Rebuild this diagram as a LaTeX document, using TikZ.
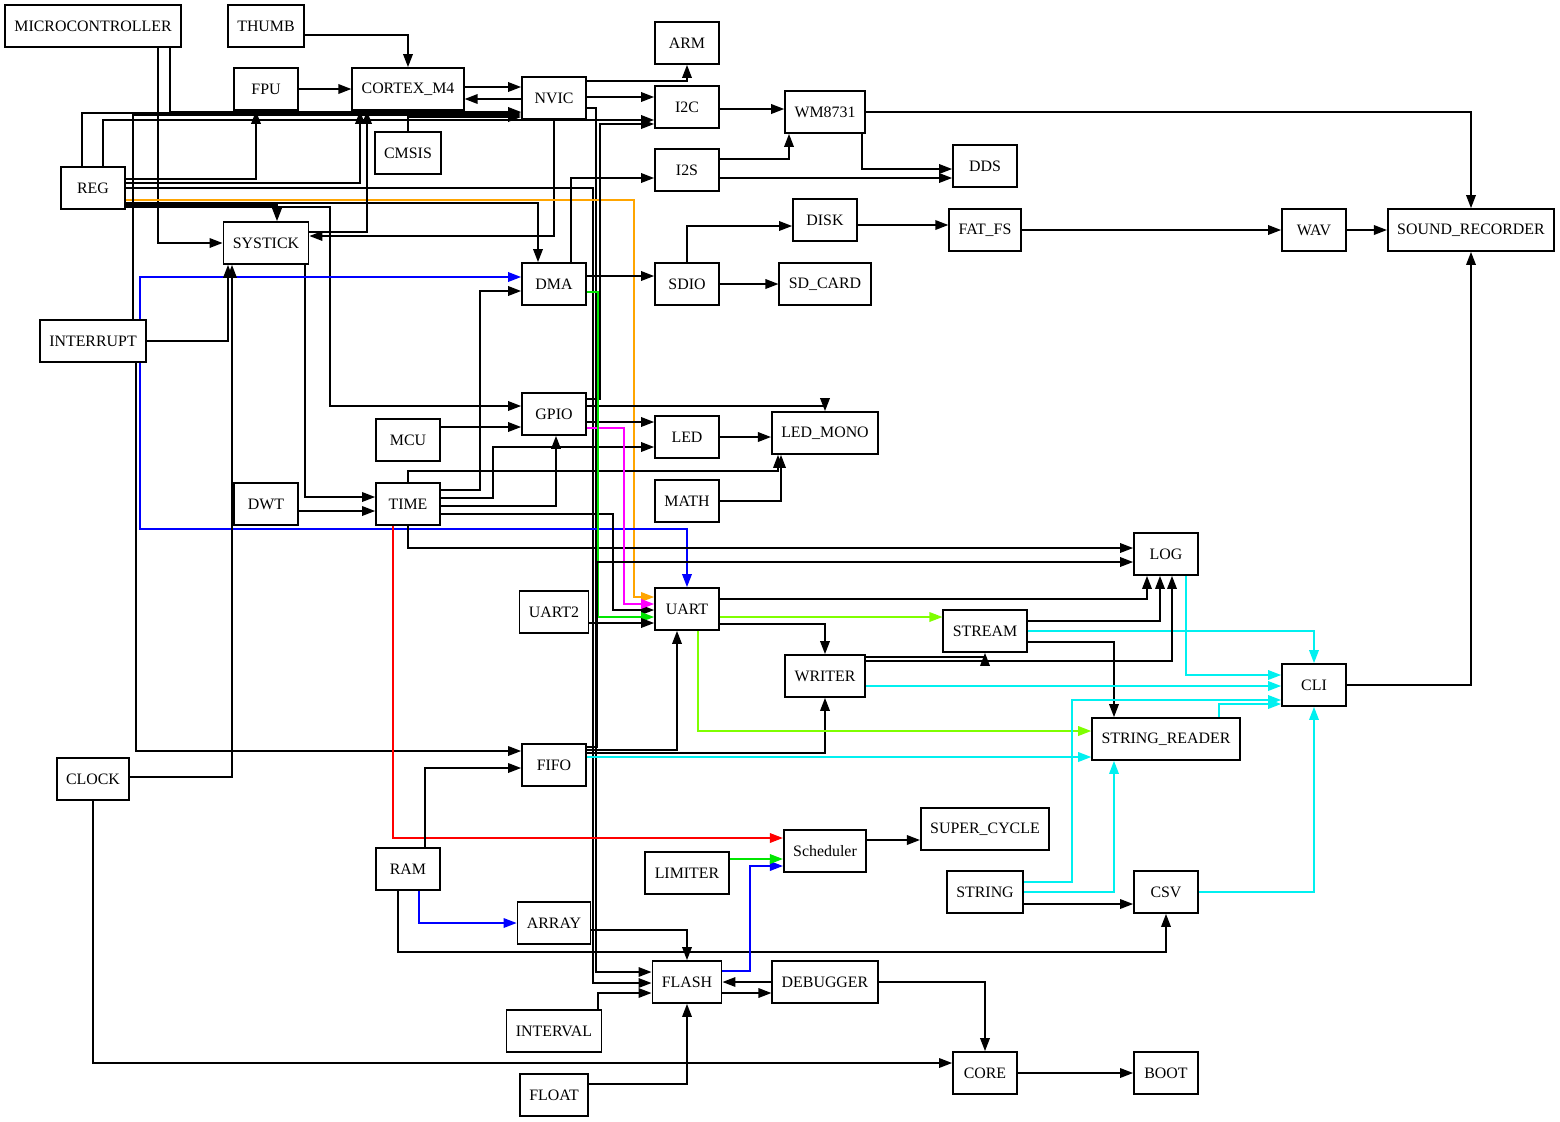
\documentclass[tikz,border=0pt]{standalone}
\usepackage{fontspec}
\setmainfont{Liberation Serif}
\usetikzlibrary{arrows.meta}
\definecolor{gvorange}{RGB}{255,165,0}
\definecolor{gvgreen}{RGB}{0,230,0}
\definecolor{gvlime}{RGB}{127,255,0}
\definecolor{gvcyan}{RGB}{0,240,240}
\definecolor{gvblue}{RGB}{0,0,255}
\definecolor{gvred}{RGB}{255,0,0}
\definecolor{gvmagenta}{RGB}{255,0,255}
\tikzset{
  box/.style={draw, line width=0.9pt, minimum width=32pt, minimum height=21pt, inner xsep=4.7pt, font=\fontsize{7.95}{9}\selectfont},
  link/.style={->, line width=0.75pt}
}
\begin{document}
\begin{tikzpicture}[>={Triangle[length=6.5pt, width=4.8pt]}, x=0.5pt, y=-0.5pt]
\useasboundingbox (0,0) rectangle (1560,1121);

\node[box] (micro) at (93,26) {MICROCONTROLLER};
\node[box] (thumb) at (266,26) {THUMB};
\node[box] (arm) at (687,43) {ARM};
\node[box] (fpu) at (266,89) {FPU};
\node[box] (cortex) at (408,89) {CORTEX\_M4};
\node[box] (nvic) at (554,98) {NVIC};
\node[box] (i2c) at (687,107) {I2C};
\node[box] (wm) at (825,112) {WM8731};
\node[box] (cmsis) at (408,153) {CMSIS};
\node[box] (reg) at (93,188) {REG};
\node[box] (i2s) at (687,170) {I2S};
\node[box] (dds) at (985,166) {DDS};
\node[box] (disk) at (825,220) {DISK};
\node[box] (fatfs) at (985,230) {FAT\_FS};
\node[box] (wav) at (1314,230) {WAV};
\node[box] (sndrec) at (1471,230) {SOUND\_RECORDER};
\node[box] (systick) at (266,243) {SYSTICK};
\node[box] (dma) at (554,284) {DMA};
\node[box] (sdio) at (687,284) {SDIO};
\node[box] (sdcard) at (825,284) {SD\_CARD};
\node[box] (interrupt) at (93,341) {INTERRUPT};
\node[box] (gpio) at (554,414) {GPIO};
\node[box] (mcu) at (408,440) {MCU};
\node[box] (led) at (687,437) {LED};
\node[box] (ledmono) at (825,433) {LED\_MONO};
\node[box] (math) at (687,501) {MATH};
\node[box] (dwt) at (266,504) {DWT};
\node[box] (time) at (408,504) {TIME};
\node[box] (log) at (1166,554) {LOG};
\node[box] (uarttwo) at (554,612) {UART2};
\node[box] (uart) at (687,609) {UART};
\node[box] (stream) at (985,631) {STREAM};
\node[box] (writer) at (825,676) {WRITER};
\node[box] (cli) at (1314,685) {CLI};
\node[box] (strreader) at (1166,739) {STRING\_READER};
\node[box] (fifo) at (554,765) {FIFO};
\node[box] (clock) at (93,779) {CLOCK};
\node[box] (supercycle) at (985,829) {SUPER\_CYCLE};
\node[box] (scheduler) at (825,851) {Scheduler};
\node[box] (ram) at (408,869) {RAM};
\node[box] (limiter) at (687,873) {LIMITER};
\node[box] (string) at (985,892) {STRING};
\node[box] (csv) at (1166,892) {CSV};
\node[box] (array) at (554,923) {ARRAY};
\node[box] (flash) at (687,982) {FLASH};
\node[box] (debugger) at (825,982) {DEBUGGER};
\node[box] (interval) at (554,1031) {INTERVAL};
\node[box] (core) at (985,1073) {CORE};
\node[box] (boot) at (1166,1073) {BOOT};
\node[box] (float) at (554,1095) {FLOAT};

\draw[link] (thumb.east |- 0,35) -| (cortex.north);
\draw[link] (fpu) -- (cortex);
\draw[link] (cortex.east |- 0,87) -- (nvic.west |- 0,87);
\draw[link] (nvic.west |- 0,99) -- (cortex.east |- 0,99);
\draw[link] (nvic.east |- 0,81) -| (arm.south);
\draw[link] (nvic.east |- 0,97) -- (i2c.west |- 0,97);
\draw[link] (nvic.east |- 0,108) -- (596,108) |- (flash.west |- 0,972);
\draw[link] (nvic.south) |- (systick.east |- 0,236);
\draw[link] (micro.south -| 170,0) |- (nvic.west |- 0,112);
\draw[link] (micro.south -| 158,0) |- (systick.west);

\draw[link] (reg.north -| 82,0) |- (nvic.west |- 0,113);
\draw[link] (reg.north -| 103,0) |- (i2c.west |- 0,120);
\draw[link] (reg.east |- 0,179) -| (256,0 |- fpu.south);
\draw[link] (reg.east |- 0,183) -| (360,0 |- cortex.south);
\draw[link] (reg.east |- 0,188) -- (593,188) |- (flash.west |- 0,983);
\draw[link, gvorange] (reg.east |- 0,200) -- (634,200) |- (uart.west |- 0,597);
\draw[link] (reg.east |- 0,203) -| (538,0 |- dma.north);
\draw[link] (reg.east |- 0,205) -| (277,0 |- systick.north);
\draw[link] (reg.east |- 0,207) -- (330,207) |- (gpio.west |- 0,406);
\draw[link] (cmsis.north) |- (nvic.west |- 0,117);

\draw[link] (systick.east |- 0,232) -| (367,0 |- cortex.south);
\draw[link] (systick.south -| 305,0) |- (time.west |- 0,497);
\draw[link] (interrupt.north -| 133,0) |- (nvic.west |- 0,115);
\draw[link, gvblue] (interrupt.north -| 140,0) |- (dma.west |- 0,277);
\draw[link, gvblue] (interrupt.south -| 140,0) |- (uart.north |- 0,529) -- (uart.north);
\draw[link] (interrupt.east) -| (228,0 |- systick.south);
\draw[link] (interrupt.south -| 136,0) |- (fifo.west |- 0,751);
\draw[link] (clock.east |- 0,777) -| (232,0 |- systick.south);
\draw[link] (clock.south) |- (core.west |- 0,1063);
\draw[link] (dwt.east |- 0,511) -- (time.west |- 0,511);

\draw[link] (time.north) |- (778,471) -- (778,0 |- ledmono.south);
\draw[link] (time.east |- 0,490) -| (480,291) -- (dma.west |- 0,291);
\draw[link] (time.east |- 0,498) -| (493,447) -- (led.west |- 0,447);
\draw[link] (time.east |- 0,506) -| (556,0 |- gpio.south);
\draw[link] (time.east |- 0,514) -| (613,610) -- (uart.west |- 0,610);
\draw[link] (time.south) |- (log.west |- 0,548);
\draw[link, gvred] (time.south -| 393,0) |- (scheduler.west |- 0,838);
\draw[link] (mcu.east |- 0,427) -- (gpio.west |- 0,427);

\draw[link] (gpio.east |- 0,399) -| (600,124) -- (i2c.west |- 0,124);
\draw[link] (gpio.east |- 0,406) -| (ledmono.north);
\draw[link] (gpio.east |- 0,422) -- (led.west |- 0,422);
\draw[link, gvmagenta] (gpio.east |- 0,428) -| (624,604) -- (uart.west |- 0,604);
\draw[link] (led.east) -- (ledmono.west |- led.east);
\draw[link] (math.east) -| (781,0 |- ledmono.south);

\draw[link, gvgreen] (dma.east |- 0,292) -| (598,617) -- (uart.west |- 0,617);
\draw[link] (dma.north -| 571,0) |- (i2s.west |- 0,178);
\draw[link] (dma.east |- 0,276) -- (sdio.west |- 0,276);
\draw[link] (sdio.north) |- (disk.west |- 0,226);
\draw[link] (sdio) -- (sdcard);
\draw[link] (disk.east |- 0,225) -- (fatfs.west |- 0,225);
\draw[link] (fatfs) -- (wav);
\draw[link] (wav) -- (sndrec);
\draw[link] (i2c.east |- 0,109) -- (wm.west |- 0,109);
\draw[link] (i2s.east |- 0,159) -| (789,0 |- wm.south);
\draw[link] (i2s.east |- 0,178) -- (dds.west |- 0,178);
\draw[link] (wm.south -| 862,0) |- (dds.west |- 0,169);
\draw[link] (wm.east) -| (sndrec.north);

\draw[link] (uarttwo.east |- 0,623) -- (uart.west |- 0,623);
\draw[link] (fifo.east |- 0,747) -- (597,747) |- (log.west |- 0,562);
\draw[link] (fifo.east |- 0,750) -| (677,0 |- uart.south);
\draw[link] (fifo.east |- 0,753) -| (writer.south);
\draw[link, gvcyan] (fifo.east |- 0,757) -- (strreader.west |- 0,757);
\draw[link] (uart.east |- 0,599) -| (1147,0 |- log.south);
\draw[link, gvlime] (uart.east |- 0,617) -- (stream.west |- 0,617);
\draw[link] (uart.east |- 0,624) -| (writer.north);
\draw[link, gvlime] (uart.south -| 698,0) |- (strreader.west |- 0,731);

\draw[link] (stream.east |- 0,621) -| (1160,0 |- log.south);
\draw[link, gvcyan] (stream.east |- 0,631) -| (cli.north);
\draw[link] (stream.east |- 0,642) -| (1114,0 |- strreader.north);
\draw[link] (writer.east |- 0,661) -| (1172,0 |- log.south);
\draw[link] (writer.east |- 0,657) -| (stream.south);
\draw[link, gvcyan] (writer.east |- 0,686) -- (cli.west |- 0,686);
\draw[link, gvcyan] (log.south -| 1186,0) |- (cli.west |- 0,675);
\draw[link, gvcyan] (string.east |- 0,882) -| (1072,700) -- (cli.west |- 0,700);
\draw[link, gvcyan] (string.east |- 0,892) -| (1114,0 |- strreader.south);
\draw[link] (string.east |- 0,904) -- (csv.west |- 0,904);
\draw[link, gvcyan] (strreader.north -| 1219,0) |- (cli.west |- 0,704);
\draw[link, gvcyan] (csv.east) -| (cli.south);
\draw[link] (cli.east) -| (sndrec.south);

\draw[link] (ram.north -| 425,0) |- (fifo.west |- 0,768);
\draw[link, gvblue] (ram.south -| 419,0) |- (array.west);
\draw[link] (ram.south -| 398,0) |- (csv.south |- 0,952) -- (csv.south);
\draw[link] (array.east |- 0,930) -| (flash.north);
\draw[link] (interval.north -| 598,0) |- (flash.west |- 0,993);
\draw[link] (float.east |- 0,1084) -| (flash.south);
\draw[link] (flash.east |- 0,993) -- (debugger.west |- 0,993);
\draw[link] (debugger.west |- 0,982) -- (flash.east |- 0,982);
\draw[link, gvblue] (flash.east |- 0,971) -| (750,866) -- (scheduler.west |- 0,866);
\draw[link, gvgreen] (limiter.east |- 0,859) -- (scheduler.west |- 0,859);
\draw[link] (scheduler.east |- 0,840) -- (supercycle.west |- 0,840);
\draw[link] (debugger.east) -| (core.north);
\draw[link] (core) -- (boot);
\end{tikzpicture}
\end{document}
